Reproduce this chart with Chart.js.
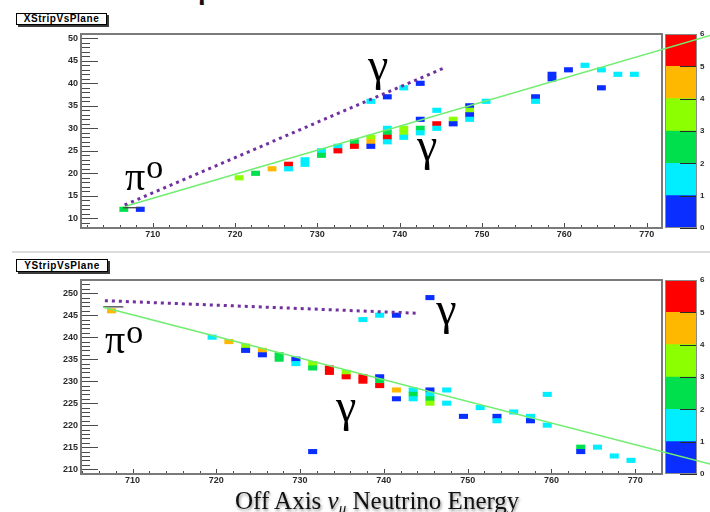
<!DOCTYPE html>
<html><head><meta charset="utf-8">
<script src="https://cdn.jsdelivr.net/npm/chart.js@4.4.1/dist/chart.umd.min.js"></script>
<style>
html,body{margin:0;padding:0;background:#fff;width:710px;height:512px;overflow:hidden;position:relative;}
.panel{position:absolute;left:0;width:710px;}
.panel canvas{position:absolute;left:0;top:0;}
.tbox{position:absolute;border:1px solid #000;background:#fff;box-shadow:2px 2px 0 #3a3a3a;font:bold 10px "Liberation Sans",Arial,sans-serif;text-align:center;letter-spacing:0.55px;color:#000;}
.sep{position:absolute;left:12px;top:251px;width:698px;height:2px;background:#dcdcdc;}
.xtitle{position:absolute;left:235px;top:488px;font:25px "Liberation Serif","Times New Roman",serif;line-height:25px;color:#111;white-space:nowrap;text-shadow:1px 2px 3px rgba(0,0,0,0.45);}
.xtitle sub{font-size:15px;vertical-align:-4px;line-height:0;}
.frag{position:absolute;left:193px;top:-37px;font:40px "Liberation Serif",serif;line-height:40px;color:#111;}
</style></head><body>

<div class="frag">γ</div>
<div class="tbox" style="left:16px;top:13px;width:89px;height:10px;line-height:10px;">XStripVsPlane</div>
<div class="panel" style="top:0;height:250px;">
  <canvas id="cb1" width="710" height="250"></canvas>
  <canvas id="c1" width="710" height="250"></canvas>
</div>
<div class="sep"></div>
<div class="tbox" style="left:16px;top:259px;width:90px;height:11px;line-height:11px;">YStripVsPlane</div>
<div class="panel" style="top:250px;height:262px;">
  <canvas id="cb2" width="710" height="262"></canvas>
  <canvas id="c2" width="710" height="262"></canvas>
</div>
<div class="xtitle">Off Axis <i>ν<sub>μ</sub></i> Neutrino Energy</div>

<script>
// ---------- DATA ----------
// colour scale (palette levels)
const zLevels = [0, 1, 2, 3, 4, 5, 6];
const palette = ['#0a2eff', '#00eeff', '#00e04c', '#8cff00', '#ffb800', '#ff0000'];

// XStripVsPlane: plane (bin low edge), strip (bin centre), content
const xPlanes = [706,708,720,722,724,726,726,728,728,730,730,732,732,734,734,736,736,736,736,738,738,738,738,738,740,740,740,740,742,742,742,742,744,744,744,746,746,748,748,748,748,750,756,756,758,758,760,762,764,764,766,768];
const xStrips = [12,12,19,20,21,22,21,23,22,25,24,26,25,27,26,36,28,27,26,37,30,29,28,27,39,30,29,28,40,32,30,29,34,31,30,32,31,35,34,33,32,36,37,36,42,41,43,44,43,39,42,42];
const xCounts = [2.5,0.5,3.5,2.5,4.5,5.5,1.5,1.5,1.5,1.5,2.5,1.5,5.5,2.5,5.5,1.5,3.5,4.5,0.5,0.5,1.5,2.5,5.5,1.5,1.5,3.5,3.5,1.5,0.5,0.5,2.5,1.5,1.5,5.5,1.5,3.5,0.5,0.5,3.5,0.5,1.5,1.5,0.5,1.5,0.5,0.5,0.5,1.5,1.5,0.5,1.5,1.5];

// YStripVsPlane
const yPlanes = [707,719,721,723,723,725,725,727,727,729,729,731,731,731,733,733,735,735,737,737,737,739,739,739,739,741,741,741,743,743,743,745,745,745,745,745,747,747,749,751,753,753,755,757,757,759,759,763,763,765,767,769];
const yStrips = [246,240,239,238,237,237,236,236,235,235,234,234,233,214,233,232,232,231,244,231,230,245,231,230,229,245,228,226,228,227,226,249,228,227,226,225,228,225,222,224,222,221,223,222,221,227,220,215,214,215,213,212];
const yCounts = [4.5,1.5,4.5,3.5,0.5,4.5,0.5,2.5,2.5,0.5,1.5,3.5,2.5,0.5,5.5,5.5,3.5,5.5,1.5,5.5,5.5,1.5,0.5,2.5,5.5,0.5,4.5,0.5,1.5,2.5,1.5,0.5,0.5,1.5,2.5,3.5,1.5,1.5,0.5,1.5,0.5,1.5,1.5,1.5,0.5,1.5,1.5,2.5,0.5,1.5,1.5,1.5];

// fit lines (green), track hypotheses (dotted) and fit start stubs
const xFitPlane = [706.6, 778.0];
const xFitStrip = [12.6, 50.8];
const yFitPlane = [706.5, 779.5];
const yFitStrip = [246.8, 210.9];
const xGammaPlane = [706.6, 745.5];
const xGammaStrip = [12.96, 43.5];
const yGammaPlane = [706.7, 743.9];
const yGammaStrip = [248.3, 245.45];
const xStubPlane = [706.4, 708.5];
const xStubStrip = [12.35, 12.35];
const yStubPlane = [706.5, 708.9];
const yStubStrip = [246.9, 246.9];

// axis ticks
const topXTicks = [710, 720, 730, 740, 750, 760, 770];
const topYTicks = [10, 15, 20, 25, 30, 35, 40, 45, 50];
const botXTicks = [710, 720, 730, 740, 750, 760, 770];
const botYTicks = [210, 215, 220, 225, 230, 235, 240, 245, 250];

// ---------- helpers ----------
const tickFont = {family: '"Liberation Sans", Arial, sans-serif', size: 9, weight: 'bold'};
const colourOf = z => palette[Math.min(palette.length - 1, Math.max(0, zLevels.findIndex((l, i) => z >= l && z < zLevels[i + 1])))];

function cellData(planes, strips, counts) {
  return planes.map((p, i) => ({x: p + 0.5, y: [strips[i] - 0.5, strips[i] + 0.5], z: counts[i]}));
}
function pts(xs, ys) { return xs.map((v, i) => ({x: v, y: ys[i]})); }
function range(a, b, s) { const r = []; for (let v = a; v <= b + 1e-9; v += s) r.push(v); return r; }

const axisDecor = {
  id: 'axisDecor',
  beforeDatasetsDraw(chart, args, o) {
    const {ctx, chartArea: a, scales: {x, y}} = chart;
    ctx.save();
    ctx.strokeStyle = '#4a4a4a';
    ctx.lineWidth = 1;
    ctx.beginPath();
    o.yMinor.forEach(v => {
      const py = Math.round(y.getPixelForValue(v)) + 0.5;
      const len = o.yMajor.includes(v) ? 17 : 9;
      ctx.moveTo(a.left, py); ctx.lineTo(a.left + len, py);
    });
    o.xMinor.forEach(v => {
      const px = Math.round(x.getPixelForValue(v)) + 0.5;
      const len = o.xMajor.includes(v) ? 5 : 3;
      ctx.moveTo(px, a.bottom); ctx.lineTo(px, a.bottom - len);
    });
    ctx.stroke();
    ctx.strokeStyle = '#7a7a7a';
    ctx.lineWidth = 2;
    ctx.strokeRect(a.left, a.top, a.right - a.left, a.bottom - a.top);
    ctx.restore();
  }
};

const annot = {
  id: 'annot',
  afterDatasetsDraw(chart, args, o) {
    const {ctx, scales: {x, y}} = chart;
    ctx.save();
    ctx.fillStyle = '#000';
    ctx.textBaseline = 'alphabetic';
    o.items.forEach(it => {
      const px = x.getPixelForValue(it.x), py = y.getPixelForValue(it.y);
      ctx.font = it.size + 'px "Liberation Serif", "Times New Roman", serif';
      ctx.fillText(it.text, px, py);
      if (it.sup) {
        const w = ctx.measureText(it.text).width;
        ctx.font = it.supSize + 'px "Liberation Serif", "Times New Roman", serif';
        ctx.fillText(it.sup, px + w + 1, py - it.supRise);
      }
    });
    ctx.restore();
  }
};

const cbDecor = {
  id: 'cbDecor',
  afterDatasetsDraw(chart) {
    const {ctx, chartArea: a, scales: {y}} = chart;
    ctx.save();
    ctx.strokeStyle = '#2a2a2a';
    ctx.lineWidth = 1;
    ctx.beginPath();
    zLevels.forEach(v => {
      const py = Math.round(y.getPixelForValue(v)) + 0.5;
      ctx.moveTo(a.right - 17, py); ctx.lineTo(a.right, py);
    });
    ctx.stroke();
    ctx.strokeStyle = '#8a8a8a';
    ctx.strokeRect(a.left + 0.5, a.top + 0.5, a.right - a.left - 1, a.bottom - a.top - 1);
    ctx.restore();
  }
};

function mainChart(id, cfg) {
  const h = document.getElementById(id).height;
  return new Chart(document.getElementById(id), {
    type: 'bar',
    data: {
      datasets: [
        {type: 'line', data: pts(cfg.fitX, cfg.fitY), borderColor: '#6fee6f', borderWidth: 1.6, pointRadius: 0, clip: false, order: 1, tension: 0, fill: false},
        {type: 'line', data: pts(cfg.stubX, cfg.stubY), borderColor: '#444', borderWidth: 1.3, pointRadius: 0, order: 2, fill: false},
        {type: 'line', data: pts(cfg.gX, cfg.gY), borderColor: '#7030a0', borderWidth: 3, borderDash: [3, 4], pointRadius: 0, order: 0, fill: false},
        {type: 'bar', data: cellData(cfg.planes, cfg.strips, cfg.counts), backgroundColor: c => colourOf(c.raw.z), borderWidth: 0, barThickness: cfg.barW, order: 5}
      ]
    },
    options: {
      responsive: false, animation: false, devicePixelRatio: 1,
      layout: {padding: {left: 0, right: 48, top: cfg.top, bottom: 0}},
      plugins: {legend: {display: false}, tooltip: {enabled: false},
        axisDecor: {xMinor: cfg.xMinor, xMajor: cfg.xTicks, yMinor: cfg.yMinor, yMajor: cfg.yTicks},
        annot: {items: cfg.annot}},
      scales: {
        x: {type: 'linear', min: cfg.xMin, max: cfg.xMax, offset: false,
            afterBuildTicks: s => { s.ticks = cfg.xTicks.map(v => ({value: v})); },
            afterFit: s => { s.height = h - cfg.bottom; },
            grid: {display: false, drawTicks: false}, border: {display: false},
            ticks: {font: tickFont, color: '#2a2a2a', padding: 1, maxRotation: 0, autoSkip: false}},
        y: {type: 'linear', min: cfg.yMin, max: cfg.yMax,
            afterBuildTicks: s => { s.ticks = cfg.yTicks.map(v => ({value: v})); },
            afterFit: s => { s.width = 81; },
            grid: {display: false, drawTicks: false}, border: {display: false},
            ticks: {font: tickFont, color: '#2a2a2a', padding: 3, autoSkip: false}}
      }
    },
    plugins: [axisDecor, annot]
  });
}

function colourBar(id, top, bottom) {
  const h = document.getElementById(id).height;
  return new Chart(document.getElementById(id), {
    type: 'bar',
    data: {labels: [''], datasets: palette.map((c, i) => ({data: [zLevels[i + 1] - zLevels[i]], backgroundColor: c, borderWidth: 0, barPercentage: 1, categoryPercentage: 1}))},
    options: {
      responsive: false, animation: false, devicePixelRatio: 1,
      layout: {padding: {left: 665, right: 0, top: top, bottom: h - bottom}},
      plugins: {legend: {display: false}, tooltip: {enabled: false}},
      scales: {
        x: {display: false, stacked: true},
        y: {position: 'right', stacked: true, min: zLevels[0], max: zLevels[zLevels.length - 1],
            afterBuildTicks: s => { s.ticks = zLevels.map(v => ({value: v})); },
            afterFit: s => { s.width = 13; },
            grid: {display: false, drawTicks: false}, border: {display: false},
            ticks: {font: {family: tickFont.family, size: 8, weight: 'bold'}, color: '#2a2a2a', padding: 3}}
      }
    },
    plugins: [cbDecor]
  });
}

colourBar('cb1', 34, 228);
mainChart('c1', {
  planes: xPlanes, strips: xStrips, counts: xCounts,
  fitX: xFitPlane, fitY: xFitStrip, gX: xGammaPlane, gY: xGammaStrip, stubX: xStubPlane, stubY: xStubStrip,
  xMin: 701.3, xMax: 771.86, yMin: 7.84, yMax: 50.96, top: 34, bottom: 228, barW: 8.2,
  xTicks: topXTicks, yTicks: topYTicks, xMinor: range(702, 770, 2), yMinor: range(8, 50, 1),
  annot: [
    {text: 'π', sup: 'o', x: 706.64, y: 16.29, size: 40, supSize: 34, supRise: 12},
    {text: 'γ', x: 736.15, y: 40.7, size: 46},
    {text: 'γ', x: 742.1, y: 22.9, size: 46}
  ]
});

colourBar('cb2', 30, 224);
mainChart('c2', {
  planes: yPlanes, strips: yStrips, counts: yCounts,
  fitX: yFitPlane, fitY: yFitStrip, gX: yGammaPlane, gY: yGammaStrip, stubX: yStubPlane, stubY: yStubStrip,
  xMin: 703.85, xMax: 773.2, yMin: 208.9, yMax: 253.0, top: 30, bottom: 224, barW: 8.4,
  xTicks: botXTicks, yTicks: botYTicks, xMinor: range(704, 772, 2), yMinor: range(209, 253, 1),
  annot: [
    {text: 'π', sup: 'o', x: 706.72, y: 236.43, size: 40, supSize: 34, supRise: 10},
    {text: 'γ', x: 746.24, y: 243.0, size: 46},
    {text: 'γ', x: 734.3, y: 221.0, size: 46}
  ]
});
</script>
</body></html>
